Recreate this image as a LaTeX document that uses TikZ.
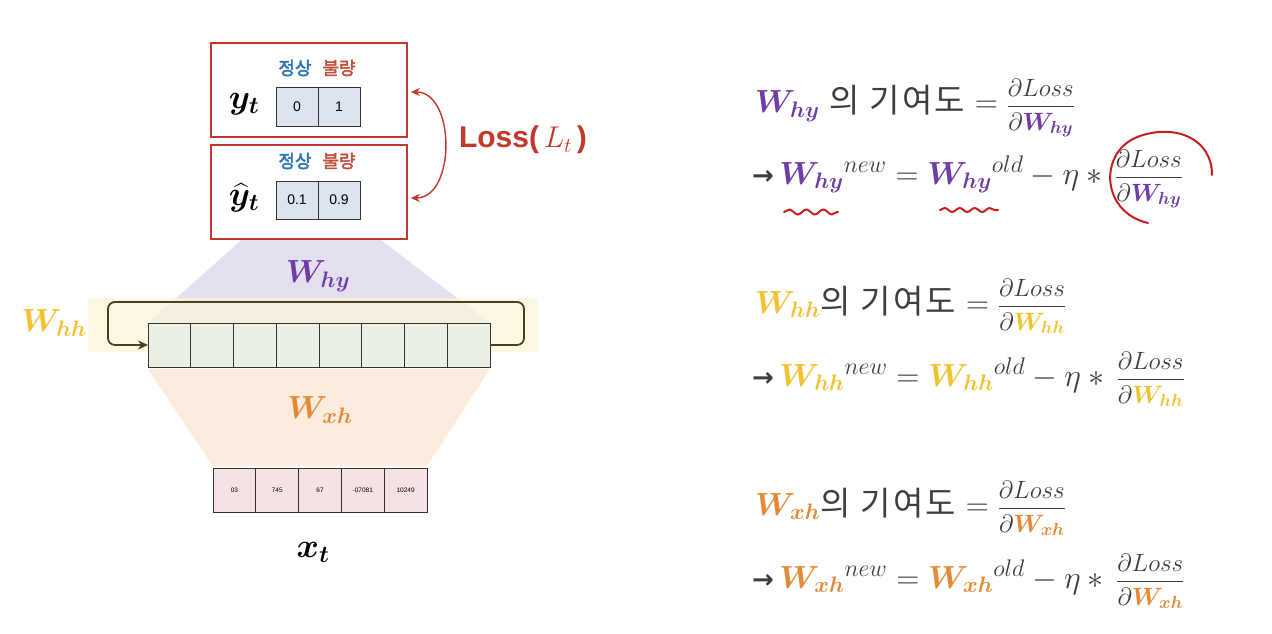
\RequirePackage{fix-cm}
\documentclass[tikz,border=0pt]{standalone}
\usepackage{amsmath}
\usepackage{bm}
\usepackage{fontspec}
\setsansfont{Liberation Sans}
\newfontfamily\kfont[LetterSpace=7]{Noto Sans CJK KR}
\newfontfamily\kbold[FakeBold=2.5]{Noto Sans CJK KR}
\newfontfamily\arrowfont{DejaVu Sans}
\usetikzlibrary{positioning,arrows.meta,decorations.pathmorphing}

\definecolor{boxred}{RGB}{192,57,43}
\definecolor{hypurple}{RGB}{112,60,165}
\definecolor{hhgold}{RGB}{242,194,50}
\definecolor{xhorange}{RGB}{228,138,55}
\definecolor{okblue}{RGB}{46,117,182}
\definecolor{badred}{RGB}{192,80,62}
\definecolor{ycellc}{RGB}{221,228,240}
\definecolor{hcellc}{RGB}{234,240,228}
\definecolor{xcellc}{RGB}{244,226,228}
\definecolor{loopdark}{RGB}{74,64,36}
\definecolor{hyshade}{RGB}{228,224,240}
\definecolor{hhshade}{RGB}{254,244,215}
\definecolor{xhshade}{RGB}{251,236,222}
\definecolor{eqgrey}{RGB}{62,62,62}
\definecolor{scribred}{RGB}{200,30,30}

\newcommand{\Wc}[2]{\textcolor{#1}{\bm{W}_{\bm{#2}}}}
\newcommand{\dLoss}[2]{\mbox{\fontsize{25}{30}\selectfont$\dfrac{\partial Loss}{\partial\Wc{#1}{#2}}$}}
\newcommand{\upr}[1]{^{\mbox{\fontsize{24}{28}\selectfont$#1$}}}
\newcommand{\goesto}{{\arrowfont\bfseries\fontsize{26}{30}\selectfont →}}
\newcommand{\kor}{{\kfont\fontsize{33}{38}\selectfont 의 기여도}}

\begin{document}
\begin{tikzpicture}[x=1pt,y=-1pt,
  outbox/.style={draw=boxred,line width=1.6pt,fill=white,minimum width=196pt,minimum height=94pt,inner sep=0pt},
  cell/.style={draw=black!80,line width=1pt,inner sep=0pt,outer sep=0pt,font=\sffamily\fontsize{14}{16}\selectfont},
  ycell/.style={cell,fill=ycellc,minimum width=42pt,minimum height=38pt},
  hcell/.style={cell,fill=hcellc,minimum width=42.75pt,minimum height=44pt},
  xcell/.style={cell,fill=xcellc,minimum width=42.8pt,minimum height=44pt,font=\sffamily\fontsize{6.5}{7}\selectfont},
  classlbl/.style={inner sep=0pt,font=\kbold\fontsize{18}{20}\selectfont},
  wlabel/.style={inner sep=0pt,font=\fontsize{32}{38}\selectfont},
  eq/.style={anchor=base west,inner sep=0pt,text=eqgrey,font=\fontsize{32}{38}\selectfont},
  scribble/.style={draw=scribred,line width=2pt,line cap=round},
]
\path[use as bounding box] (0,0) rectangle (1272,634);
\path[fill=white,draw=none] (0,0) rectangle (1272,634);

% shaded weight areas
\fill[hyshade] (255,228) -- (365,228) -- (490,323) -- (148,323) -- cycle;
\fill[hhshade,opacity=0.7] (88,298) rectangle (538,352);
\fill[xhshade] (148,369) -- (490,369) -- (427,466) -- (213,466) -- cycle;

% output boxes
\node[outbox] (ybox) at (309,90) {};
\node[outbox] (yhatbox) at (309,192) {};
\node[ycell] (yc1) at (297,107) {0};
\node[ycell,right=0pt of yc1] (yc2) {1};
\node[ycell] (yhc1) at (297,200) {0.1};
\node[ycell,right=0pt of yhc1] (yhc2) {0.9};
\node[classlbl,text=okblue] (ok1) at (295,68) {정상};
\node[classlbl,text=badred] (bad1) at (339,68) {불량};
\node[classlbl,text=okblue] (ok2) at (295,161) {정상};
\node[classlbl,text=badred] (bad2) at (339,161) {불량};
\node[wlabel,font=\fontsize{34}{40}\selectfont] (ylbl) at (244,104) {$\bm{y}_{\bm{t}}$};
\node[wlabel,font=\fontsize{34}{40}\selectfont] (yhatlbl) at (244,198) {$\widehat{\bm{y}}_{\bm{t}}$};

% loss between target and prediction
\draw[boxred,line width=1.4pt,{Stealth[length=9pt,width=8pt]}-{Stealth[length=9pt,width=8pt]}]
  ([xshift=3pt,yshift=-2pt]ybox.east) .. controls ([xshift=48pt,yshift=-2pt]ybox.east) and ([xshift=48pt,yshift=-6pt]yhatbox.east) .. ([xshift=3pt,yshift=-6pt]yhatbox.east);
\node[text=boxred,inner sep=0pt,font=\sffamily\bfseries\fontsize{30}{36}\selectfont] (loss) at (523,140) {Loss($\,L_t\,$)};

% hidden state
\foreach \i in {0,...,7}
  \node[hcell] (h\i) at ({169.4+42.75*\i},345) {};
\draw[loopdark,line width=1.8pt,rounded corners=7pt,-{Stealth[length=10pt,width=9pt]}]
  (h7.east) -- (524,345) -- (524,302) -- (108,302) -- (108,345) -- (h0.west);

% input
\node[xcell] (x0) at (234.4,490) {03};
\node[xcell,right=0pt of x0] (x1) {745};
\node[xcell,right=0pt of x1] (x2) {67};
\node[xcell,right=0pt of x2] (x3) {-07081};
\node[xcell,right=0pt of x3] (x4) {10249};
\node[wlabel,font=\fontsize{34}{40}\selectfont] (xlbl) at (313,552) {$\bm{x}_{\bm{t}}$};

% weight labels
\node[wlabel] (why) at (318,276) {$\Wc{hypurple}{hy}$};
\node[wlabel] (whh) at (54,323) {$\Wc{hhgold}{hh}$};
\node[wlabel] (wxh) at (320,410) {$\Wc{xhorange}{xh}$};

% update rules
\node[eq] (hyq) at (755,113) {$\Wc{hypurple}{hy}$ \kor{} $=\dLoss{hypurple}{hy}$};
\node[eq] (hyupd) at (752,184) {\goesto\,$\Wc{hypurple}{hy}\upr{new}=\Wc{hypurple}{hy}\upr{old}-\eta\ast\,\dLoss{hypurple}{hy}$};
\node[eq] (hhq) at (755,313) {$\Wc{hhgold}{hh}$\kor{} $=\dLoss{hhgold}{hh}$};
\node[eq] (hhupd) at (752,386) {\goesto\,$\Wc{hhgold}{hh}\upr{new}=\Wc{hhgold}{hh}\upr{old}-\eta\ast\,\dLoss{hhgold}{hh}$};
\node[eq] (xhq) at (755,515) {$\Wc{xhorange}{xh}$\kor{} $=\dLoss{xhorange}{xh}$};
\node[eq] (xhupd) at (752,588) {\goesto\,$\Wc{xhorange}{xh}\upr{new}=\Wc{xhorange}{xh}\upr{old}-\eta\ast\,\dLoss{xhorange}{xh}$};

% hand marks
\draw[scribble,decorate,decoration={snake,amplitude=2.5pt,segment length=17pt}] (784,212) -- (838,212);
\draw[scribble,decorate,decoration={snake,amplitude=2pt,segment length=15pt}] (940,210) -- (998,210);
\draw[scribble] (1148,223) .. controls (1100,212) and (1098,150) .. (1140,136) .. controls (1175,124) and (1212,138) .. (1212,175);
\end{tikzpicture}
\end{document}
